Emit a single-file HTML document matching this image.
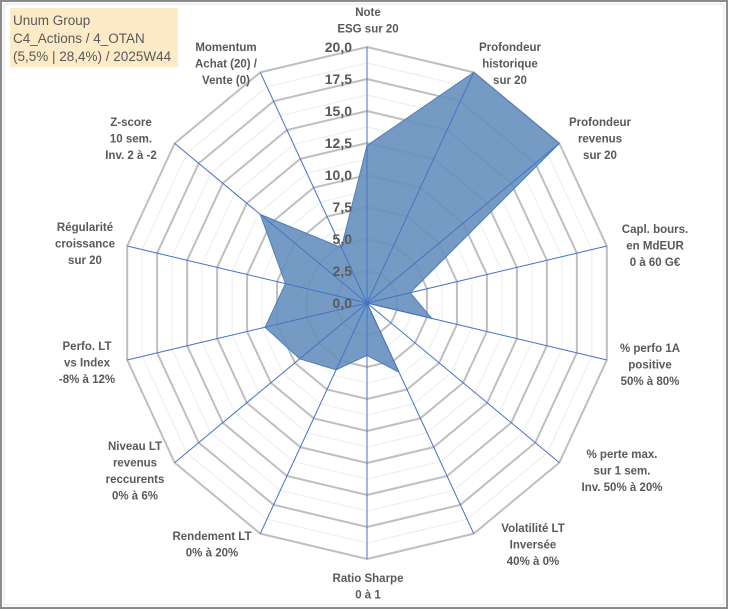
<!DOCTYPE html>
<html><head><meta charset="utf-8"><style>
body{margin:0;background:#fff;}
#wrap{position:relative;width:729px;height:610px;overflow:hidden;background:#fff;}
svg text{font-family:"Liberation Sans",Arial,sans-serif;}
</style></head><body>
<div id="wrap">
<svg id="chart" width="729" height="610" xmlns="http://www.w3.org/2000/svg">
<rect x="1" y="1" width="726" height="607" fill="#fff" stroke="#8c8c8c" stroke-width="2"/>
<rect x="4" y="4" width="720" height="601" fill="none" stroke="#e6e6e6" stroke-width="1"/>
<rect x="10" y="8" width="168" height="59" fill="#fcebc6"/>
<text x="13" y="25" font-size="13.5" fill="#595959">Unum Group</text>
<text x="13" y="43" font-size="13.5" fill="#595959">C4_Actions / 4_OTAN</text>
<text x="13" y="61" font-size="13.5" fill="#595959">(5,5% | 28,4%) / 2025W44</text>
<g id="grid"></g><g id="series"></g><g id="axes"></g><g id="ticks"></g><g id="labels"></g>
</svg>
</div>
<script>
const categories=["Note|ESG sur 20","Profondeur|historique|sur 20","Profondeur|revenus|sur 20","Capl. bours.|en MdEUR|0 à 60 G€","% perfo 1A|positive|50% à 80%","% perte max.|sur 1 sem.|Inv. 50% à 20%","Volatilité LT|Inversée|40% à 0%","Ratio Sharpe|0 à 1","Rendement LT|0% à 20%","Niveau LT|revenus|reccurents|0% à 6%","Perfo. LT|vs Index|-8% à 12%","Régularité|croissance|sur 20","Z-score|10 sem.|Inv. 2 à -2","Momentum|Achat (20) /|Vente (0)"];
const values=[12.3,20,20,3.6,5.4,0,6.0,4.1,5.8,7.0,8.5,6.8,11.1,4.8];
const tickLabels=["0,0","2,5","5,0","7,5","10,0","12,5","15,0","17,5","20,0"];
const tickValues=[0,2.5,5,7.5,10,12.5,15,17.5,20];
const labelPos=[[368,12],[510,47],[600,122],[655,229],[650,348],[622,454],[533,528],[368,578],[212,536],[135,446],[87,346],[85,227],[131,122],[226,47]];
const NS="http://www.w3.org/2000/svg";
const cx=367,cy=303,RX=246,RY=256,MAX=20,N=categories.length;
function pt(i,v){const a=i*2*Math.PI/N;return [cx+Math.sin(a)*RX*v/MAX,cy-Math.cos(a)*RY*v/MAX];}
function mk(tag,attrs,parent){const e=document.createElementNS(NS,tag);for(const k in attrs)e.setAttribute(k,attrs[k]);document.getElementById(parent).appendChild(e);return e;}
for(let s=1;s<=16;s++){const v=s*1.25;const pts=[];for(let i=0;i<N;i++)pts.push(pt(i,v).join(","));
 const major=s%2===0;
 const g=mk("polygon",{points:pts.join(" "),fill:"none",stroke:major?"#bfbfbf":"#ececec","stroke-width":major?2:1},"grid");
 
 }
const sp=values.map((v,i)=>pt(i,v).join(",")).join(" ");
const poly=mk("polygon",{points:sp,fill:"#6690bf","fill-opacity":"0.9",stroke:"#4f7fb5","stroke-width":1},"series");


for(let i=0;i<N;i++){const p=pt(i,MAX);
 const l=mk("line",{x1:cx,y1:cy,x2:p[0],y2:p[1],stroke:"#4472c4","stroke-width":1},"axes");
 
 }
tickValues.forEach((v,j)=>{const y=cy-RY*v/MAX;
 const t=mk("text",{x:352,y:y+5,"text-anchor":"end","font-size":14,"font-weight":"bold",fill:"#595959"},"ticks");
 t.textContent=tickLabels[j];
 
 });
categories.forEach((c,i)=>{const lines=c.split("|");const [x,y]=labelPos[i];
 const t=mk("text",{x:x,y:y+4,"text-anchor":"middle","font-size":11.5,"font-weight":"bold",fill:"#595959"},"labels");
 
 
 lines.forEach((ln,k)=>{const ts=document.createElementNS(NS,"tspan");ts.setAttribute("x",x);ts.setAttribute("dy",k===0?0:16.5);ts.textContent=ln;t.appendChild(ts);});});
</script>
</body></html>
